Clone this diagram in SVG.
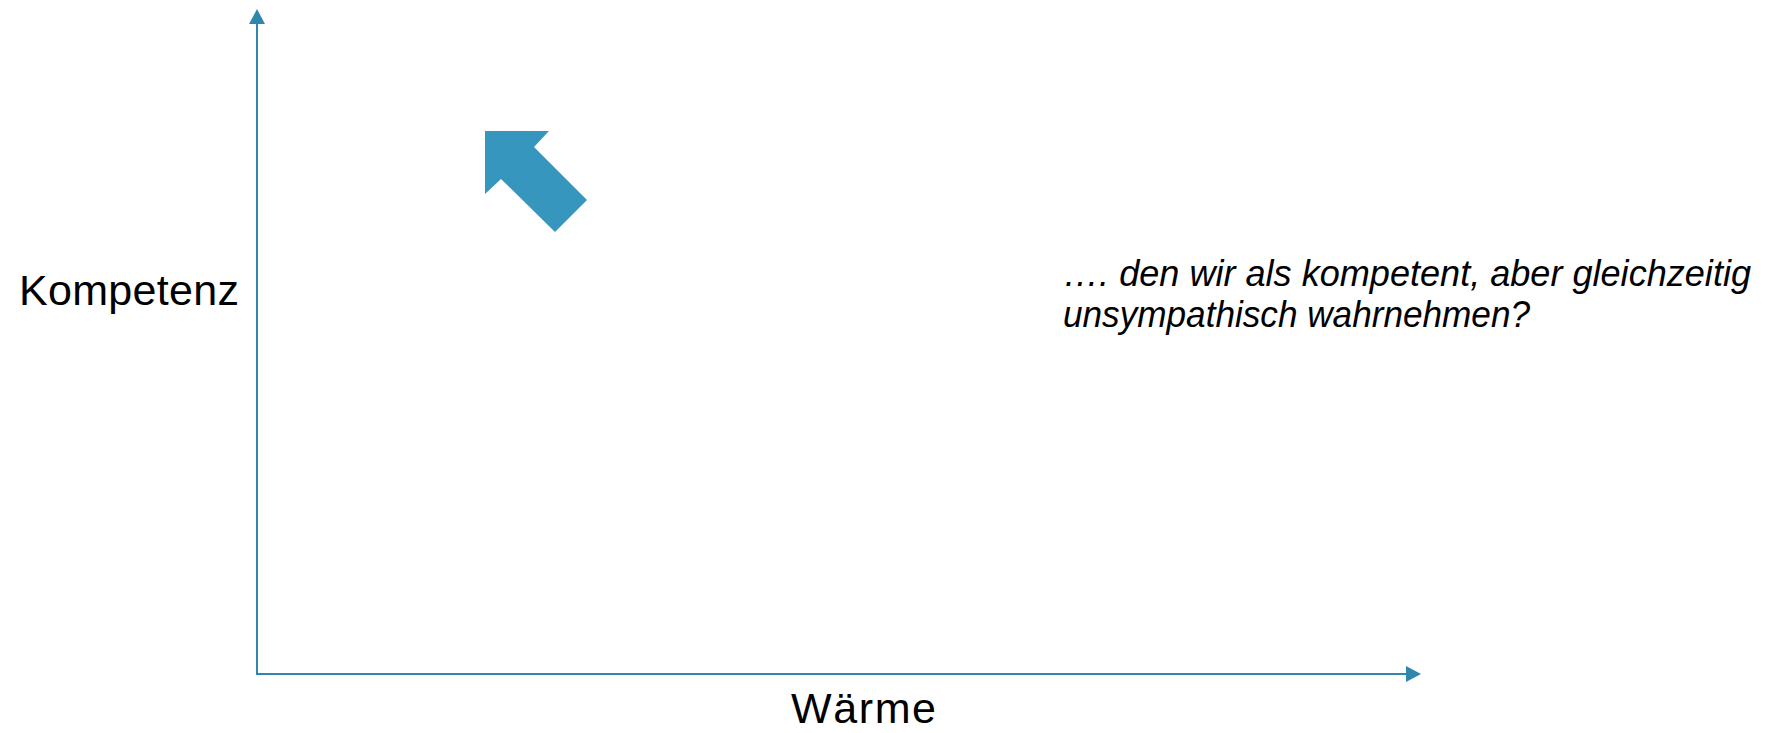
<svg xmlns="http://www.w3.org/2000/svg" width="1771" height="733" viewBox="0 0 1771 733">
  <style>
    .axis { stroke: #2F87AE; stroke-width: 2; fill: none; }
    .head { fill: #2F87AE; }
    .label { font-family: "Liberation Sans", Arial, sans-serif; font-size: 43px; fill: #000; }
    .note { font-family: "Liberation Sans", Arial, sans-serif; font-style: italic; font-size: 37px; fill: #000; }
  </style>
  <rect width="1771" height="733" fill="#fff"/>

  <!-- axes -->
  <g id="connectors">
    <line class="axis" x1="257" y1="674" x2="257" y2="22"/>
    <polygon class="head" points="257,9 249,24 265,24"/>
    <line class="axis" x1="256" y1="674" x2="1408" y2="674"/>
    <polygon class="head" points="1421,674 1406,666 1406,682"/>
  </g>

  <!-- block arrow pointing up-left -->
  <g id="arrow">
    <polygon fill="#3796BD" points="485,131 549,131 534,147 587,200 555,232 501,179 485,194"/>
  </g>

  <g id="label-kompetenz">
    <text class="label" x="19" y="305" textLength="220" lengthAdjust="spacing">Kompetenz</text>
  </g>

  <g id="label-waerme">
    <text class="label" x="791" y="723" textLength="145" lengthAdjust="spacing">Wärme</text>
  </g>

  <g id="question">
    <text class="note" x="1063" y="286" textLength="688" lengthAdjust="spacingAndGlyphs">…. den wir als kompetent, aber gleichzeitig</text>
    <text class="note" x="1063" y="327" textLength="467" lengthAdjust="spacingAndGlyphs">unsympathisch wahrnehmen?</text>
  </g>
</svg>
